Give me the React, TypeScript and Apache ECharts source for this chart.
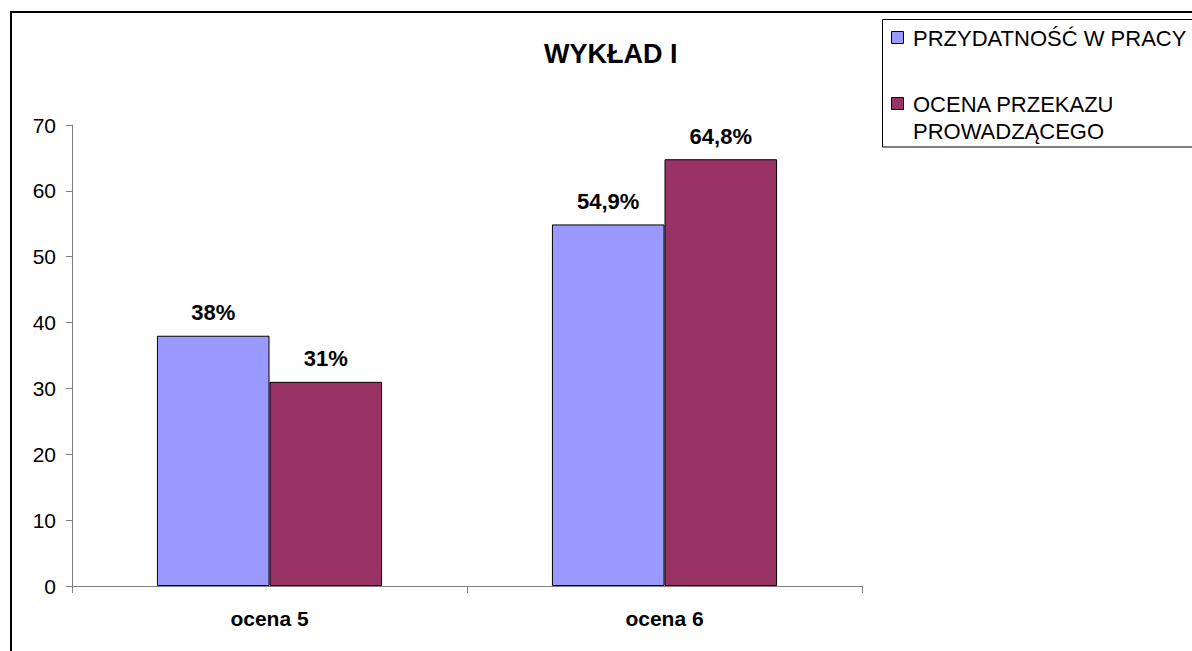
import React, { useEffect, useRef } from "react";
import * as echarts from "echarts";

const categories = ["ocena 5", "ocena 6"];
const seriesNames = ["PRZYDATNOŚĆ W PRACY", "OCENA PRZEKAZU PROWADZĄCEGO"];
const przydatnosc = [38, 54.9];
const ocenaPrzekazu = [31, 64.8];
const yTicks = [0, 10, 20, 30, 40, 50, 60, 70];
const titleText = "WYKŁAD I";

const FONT = "'Liberation Sans', Arial, Helvetica, sans-serif";

const fmtPct = (v: number) => (Number.isInteger(v) ? String(v) : v.toFixed(1).replace(".", ",")) + "%";

export default function App() {
  const ref = useRef<HTMLDivElement>(null);
  useEffect(() => {
    if (!ref.current) return;
    const chart = echarts.init(ref.current, undefined, { renderer: "svg" });
    const labelStyle = {
      show: true,
      position: "top" as const,
      distance: 12,
      fontFamily: FONT,
      fontWeight: "bold" as const,
      fontSize: 22,
      color: "#000",
      formatter: (p: any) => fmtPct(p.value),
    };
    chart.setOption({
      animation: false,
      backgroundColor: "#fff",
      textStyle: { fontFamily: FONT },
      title: {
        text: titleText,
        left: 539,
        top: 35,
        textStyle: { fontFamily: FONT, fontWeight: "bold", fontSize: 27, color: "#000" },
      },
      grid: { left: 72, right: 330, top: 125, bottom: 65, containLabel: false },
      xAxis: {
        type: "category",
        data: categories,
        boundaryGap: true,
        axisLine: { lineStyle: { color: "#808080", width: 1 } },
        axisTick: { show: true, length: 7, lineStyle: { color: "#808080" }, inside: false },
        axisLabel: { margin: 22, fontFamily: FONT, fontWeight: "bold", fontSize: 21, color: "#000" },
        splitLine: { show: false },
      },
      yAxis: {
        type: "value",
        min: yTicks[0],
        max: yTicks[yTicks.length - 1],
        interval: 10,
        axisLine: { show: true, lineStyle: { color: "#808080", width: 1 } },
        axisTick: { show: true, length: 6, lineStyle: { color: "#808080" } },
        axisLabel: { margin: 16, fontFamily: FONT, fontSize: 21, color: "#000" },
        splitLine: { show: false },
      },
      series: [
        {
          name: seriesNames[0],
          type: "bar",
          data: przydatnosc,
          barGap: "0%",
          barCategoryGap: "43%",
          itemStyle: { color: "#9999FF", borderColor: "#000", borderWidth: 1 },
          label: labelStyle,
        },
        {
          name: seriesNames[1],
          type: "bar",
          data: ocenaPrzekazu,
          barGap: "0%",
          barCategoryGap: "43%",
          itemStyle: { color: "#993366", borderColor: "#000", borderWidth: 1 },
          label: labelStyle,
        },
      ],
      graphic: [
        {
          type: "rect",
          silent: true,
          shape: { x: 11, y: 12, width: 2000, height: 2000 },
          style: { fill: "none", stroke: "#000", lineWidth: 2 },
          z: 100,
        },
        {
          type: "rect",
          silent: true,
          shape: { x: 882.5, y: 19.5, width: 400, height: 127.5 },
          style: { fill: "#fff", stroke: "#000", lineWidth: 1 },
          z: 100,
        },
        {
          type: "rect",
          silent: true,
          shape: { x: 891.5, y: 31.5, width: 12, height: 12 },
          style: { fill: "#9999FF", stroke: "#000", lineWidth: 1 },
          z: 101,
        },
        {
          type: "text",
          silent: true,
          x: 913,
          y: 38,
          style: {
            text: seriesNames[0],
            fontFamily: FONT,
            fontSize: 22,
            fill: "#000",
            textAlign: "left",
            textVerticalAlign: "middle",
          },
          z: 101,
        },
        {
          type: "rect",
          silent: true,
          shape: { x: 891.5, y: 97.5, width: 12, height: 12 },
          style: { fill: "#993366", stroke: "#000", lineWidth: 1 },
          z: 101,
        },
        {
          type: "text",
          silent: true,
          x: 913,
          y: 104,
          style: {
            text: "OCENA PRZEKAZU",
            fontFamily: FONT,
            fontSize: 22,
            fill: "#000",
            textAlign: "left",
            textVerticalAlign: "middle",
          },
          z: 101,
        },
        {
          type: "text",
          silent: true,
          x: 913,
          y: 131,
          style: {
            text: "PROWADZĄCEGO",
            fontFamily: FONT,
            fontSize: 22,
            fill: "#000",
            textAlign: "left",
            textVerticalAlign: "middle",
          },
          z: 101,
        },
      ],
    });
    return () => chart.dispose();
  }, []);
  return (
    <div
      ref={ref}
      style={{ position: "fixed", left: 0, top: 0, width: 1192, height: 651, background: "#fff" }}
    />
  );
}
